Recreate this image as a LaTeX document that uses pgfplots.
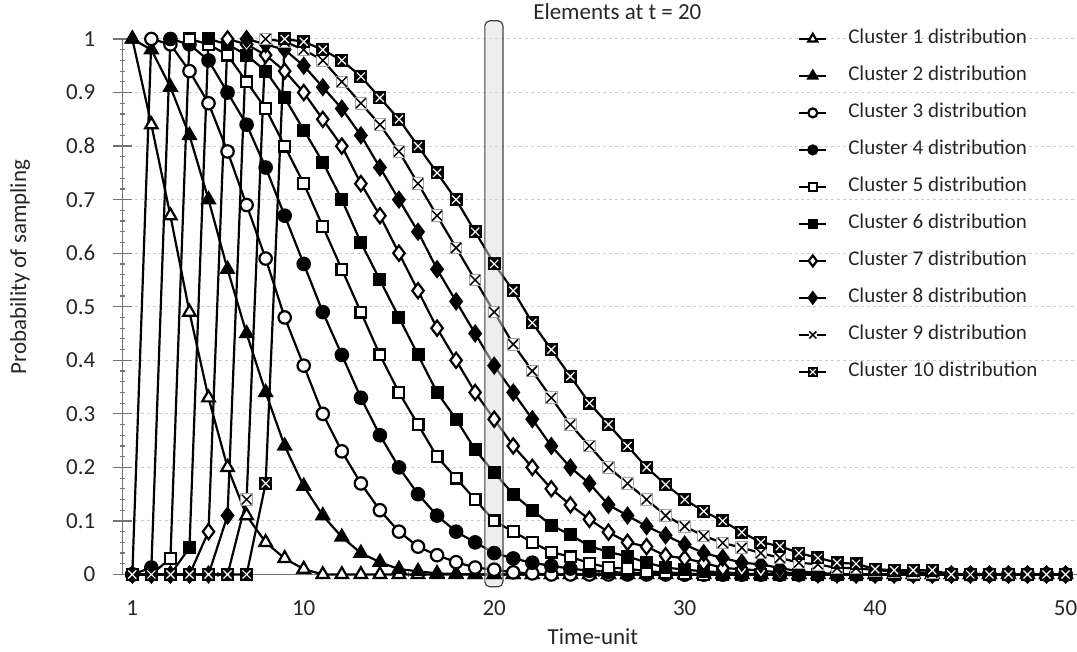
\documentclass[border=0pt]{standalone}
\usepackage{fontspec}
\setmainfont{Carlito}
\usepackage{pgfplots}
\usepackage{pgfplotstable}
\pgfplotsset{compat=1.18}

\pgfdeclareplotmark{xbox}{%
  \pgfpathrectangle{\pgfqpoint{-\pgfplotmarksize}{-\pgfplotmarksize}}{\pgfqpoint{2\pgfplotmarksize}{2\pgfplotmarksize}}%
  \pgfusepathqfillstroke
  \begin{pgfscope}%
  \pgfsetstrokecolor{white}%
  \pgfsetlinewidth{0.6pt}%
  \pgfpathmoveto{\pgfqpoint{-0.75\pgfplotmarksize}{-0.75\pgfplotmarksize}}%
  \pgfpathlineto{\pgfqpoint{0.75\pgfplotmarksize}{0.75\pgfplotmarksize}}%
  \pgfpathmoveto{\pgfqpoint{-0.75\pgfplotmarksize}{0.75\pgfplotmarksize}}%
  \pgfpathlineto{\pgfqpoint{0.75\pgfplotmarksize}{-0.75\pgfplotmarksize}}%
  \pgfusepathqstroke
  \end{pgfscope}%
}
\pgfdeclareplotmark{xwhite}{%
  \begin{pgfscope}%
  \pgfsetfillcolor{white}%
  \pgfsetstrokecolor{black!35}%
  \pgfsetlinewidth{0.5pt}%
  \pgfpathrectangle{\pgfqpoint{-\pgfplotmarksize}{-\pgfplotmarksize}}{\pgfqpoint{2\pgfplotmarksize}{2\pgfplotmarksize}}%
  \pgfusepathqfillstroke
  \end{pgfscope}%
  \pgfpathmoveto{\pgfqpoint{-0.85\pgfplotmarksize}{-0.85\pgfplotmarksize}}%
  \pgfpathlineto{\pgfqpoint{0.85\pgfplotmarksize}{0.85\pgfplotmarksize}}%
  \pgfpathmoveto{\pgfqpoint{-0.85\pgfplotmarksize}{0.85\pgfplotmarksize}}%
  \pgfpathlineto{\pgfqpoint{0.85\pgfplotmarksize}{-0.85\pgfplotmarksize}}%
  \pgfusepathqstroke
}
\pgfdeclareplotmark{xlegend}{%
  \begin{pgfscope}%
  \pgfsetfillcolor{white}%
  \pgfpathrectangle{\pgfqpoint{-\pgfplotmarksize}{-\pgfplotmarksize}}{\pgfqpoint{2\pgfplotmarksize}{2\pgfplotmarksize}}%
  \pgfusepathqfill
  \end{pgfscope}%
  \pgfpathmoveto{\pgfqpoint{-0.85\pgfplotmarksize}{-0.85\pgfplotmarksize}}%
  \pgfpathlineto{\pgfqpoint{0.85\pgfplotmarksize}{0.85\pgfplotmarksize}}%
  \pgfpathmoveto{\pgfqpoint{-0.85\pgfplotmarksize}{0.85\pgfplotmarksize}}%
  \pgfpathlineto{\pgfqpoint{0.85\pgfplotmarksize}{-0.85\pgfplotmarksize}}%
  \pgfusepathqstroke
}

\pgfplotstableread{
t  c1    c2    c3    c4    c5    c6    c7    c8    c9    c10
1  1     1     0     0     0     0     0     0     0     0
2  0.84  0.98  1     0.013 0     0     0     0     0     0
3  0.67  0.91  0.99  1     0.03  0     0     0     0     0
4  0.49  0.82  0.94  0.99  1     0.05  0     0     0     0
5  0.33  0.70  0.88  0.96  0.99  1     0.08  0     0     0
6  0.20  0.57  0.79  0.90  0.97  0.99  1     0.11  0     0
7  0.11  0.45  0.69  0.84  0.92  0.97  0.99  1     0.14  0
8  0.06  0.34  0.59  0.76  0.87  0.94  0.97  0.99  1     0.17
9  0.03  0.24  0.48  0.67  0.80  0.89  0.94  0.98  0.995 1
10 0.01  0.165 0.39  0.58  0.73  0.83  0.90  0.95  0.98  0.995
11 0     0.11  0.30  0.49  0.65  0.77  0.85  0.91  0.96  0.98
12 0     0.07  0.23  0.41  0.57  0.70  0.80  0.87  0.92  0.96
13 0     0.04  0.17  0.33  0.49  0.62  0.73  0.82  0.88  0.93
14 0     0.023 0.12  0.26  0.41  0.55  0.67  0.76  0.84  0.89
15 0     0.01  0.08  0.20  0.34  0.48  0.60  0.70  0.79  0.85
16 0     0.006 0.052 0.15  0.28  0.41  0.53  0.64  0.73  0.80
17 0     0.002 0.036 0.11  0.22  0.34  0.46  0.57  0.67  0.75
18 0     0.001 0.023 0.08  0.18  0.29  0.40  0.51  0.61  0.70
19 0     0     0.013 0.06  0.14  0.233 0.34  0.45  0.55  0.64
20 0     0     0.009 0.04  0.10  0.19  0.29  0.39  0.49  0.58
21 0     0     0.004 0.03  0.08  0.15  0.24  0.34  0.43  0.53
22 0     0     0.002 0.022 0.06  0.12  0.20  0.29  0.38  0.47
23 0     0     0     0.016 0.042 0.092 0.16  0.24  0.33  0.42
24 0     0     0     0.011 0.033 0.074 0.13  0.20  0.28  0.37
25 0     0     0     0.007 0.021 0.053 0.103 0.17  0.24  0.32
26 0     0     0     0.005 0.013 0.042 0.079 0.13  0.20  0.28
27 0     0     0     0.003 0.011 0.034 0.06  0.11  0.17  0.24
28 0     0     0     0.002 0.006 0.022 0.052 0.09  0.14  0.20
29 0     0     0     0.001 0.004 0.013 0.035 0.073 0.11  0.168
30 0     0     0     0     0.002 0.009 0.03  0.056 0.09  0.14
31 0     0     0     0     0     0.006 0.022 0.04  0.072 0.118
32 0     0     0     0     0     0.004 0.012 0.031 0.059 0.10
33 0     0     0     0     0     0.002 0.01  0.022 0.05  0.079
34 0     0     0     0     0     0     0.007 0.019 0.04  0.06
35 0     0     0     0     0     0     0.004 0.012 0.031 0.053
36 0     0     0     0     0     0     0.002 0.006 0.022 0.04
37 0     0     0     0     0     0     0     0.003 0.019 0.031
38 0     0     0     0     0     0     0     0.001 0.012 0.022
39 0     0     0     0     0     0     0     0     0.012 0.02
40 0     0     0     0     0     0     0     0     0.008 0.01
41 0     0     0     0     0     0     0     0     0.006 0.008
42 0     0     0     0     0     0     0     0     0.004 0.008
43 0     0     0     0     0     0     0     0     0.003 0.008
44 0     0     0     0     0     0     0     0     0     0
45 0     0     0     0     0     0     0     0     0     0
46 0     0     0     0     0     0     0     0     0     0
47 0     0     0     0     0     0     0     0     0     0
48 0     0     0     0     0     0     0     0     0     0
49 0     0     0     0     0     0     0     0     0     0
50 0     0     0     0     0     0     0     0     0     0
}\data

\begin{document}
\begin{tikzpicture}
\begin{axis}[
  scale only axis, width=477.1pt, height=267.75pt,
  xmin=0.5, xmax=50.6, ymin=0, ymax=1,
  clip=false,
  axis lines=left,
  axis line style={-, black!55, line width=0.6pt},
  xtick={1,10,20,30,40,50},
  ytick={0,0.1,0.2,0.3,0.4,0.5,0.6,0.7,0.8,0.9,1},
  minor y tick num=4,
  minor xtick={5.5,15.5,25.5,35.5,45.5},
  major x tick style={draw=none},
  tick style={black!55, line width=0.6pt},
  tick align=center,
  major tick length=9.5pt,
  minor tick length=2.5pt,
  ymajorgrids,
  major grid style={dash pattern=on 1.5pt off 1.5pt, black!20, line width=0.5pt},
  /pgf/number format/assume math mode=true,
  yticklabel style={/pgf/number format/fixed, /pgf/number format/precision=1, xshift=-5.5pt},
  xticklabel style={yshift=-5pt},
  ticklabel style={font=\fontsize{11.5}{13}\selectfont, text=black!85},
  xlabel={Time-unit},
  ylabel={Probability of sampling},
  label style={font=\fontsize{11.5}{13}\selectfont, text=black!85},
  xlabel style={at={(axis description cs:0.4927,-0.1167)}, anchor=center},
  ylabel style={at={(axis description cs:-0.1077,0.574)}, anchor=center},
  every axis plot/.append style={line width=1.1pt, black},
  mark options={solid, line width=0.75pt},
  legend style={at={(axis cs:35.94,1.0196)}, anchor=north west, draw=none, fill=none,
    inner sep=0pt, row sep=8.5pt, column sep=0pt,
    font=\fontsize{10.5}{12}\selectfont, text=black!85,
    nodes={inner sep=0pt, text height=7.5pt, text depth=2.5pt}},
  legend cell align=left,
  legend image code/.code={\draw[mark repeat=2,mark phase=2,line width=1.1pt, every mark/.append style={scale=0.72}] plot coordinates {(0pt,0pt) (6.75pt,0pt) (13.5pt,0pt)}; \path[draw=none, fill=none] (13.5pt,0pt) -- (24.5pt,0pt);},
]
\addplot[mark=triangle*, mark size=3.6pt, mark options={fill=white}] table[x=t,y=c1] {\data};
\addlegendentry{Cluster 1 distribution}
\addplot[mark=triangle*, mark size=3.6pt, mark options={fill=black}] table[x=t,y=c2] {\data};
\addlegendentry{Cluster 2 distribution}
\addplot[mark=*, mark size=3.1pt, mark options={fill=white}] table[x=t,y=c3] {\data};
\addlegendentry{Cluster 3 distribution}
\addplot[mark=*, mark size=3.1pt, mark options={fill=black}] table[x=t,y=c4] {\data};
\addlegendentry{Cluster 4 distribution}
\addplot[mark=square*, mark size=2.7pt, mark options={fill=white}] table[x=t,y=c5] {\data};
\addlegendentry{Cluster 5 distribution}
\addplot[mark=square*, mark size=2.7pt, mark options={fill=black}] table[x=t,y=c6] {\data};
\addlegendentry{Cluster 6 distribution}
\addplot[mark=diamond*, mark size=3.8pt, mark options={fill=white}] table[x=t,y=c7] {\data};
\addlegendentry{Cluster 7 distribution}
\addplot[mark=diamond*, mark size=3.8pt, mark options={fill=black}] table[x=t,y=c8] {\data};
\addlegendentry{Cluster 8 distribution}
\addplot[mark=xwhite, mark size=2.9pt, legend image post style={mark=xlegend}] table[x=t,y=c9] {\data};
\addlegendentry{Cluster 9 distribution}
\addplot[mark=xbox, mark size=2.7pt, mark options={fill=black}] table[x=t,y=c10] {\data};
\addlegendentry{Cluster 10 distribution}
\draw[rounded corners=2.5pt, black!75, line width=0.6pt, fill={rgb,255:red,222;green,222;blue,222}, fill opacity=0.5]
  (axis cs:19.51,-0.023) rectangle (axis cs:20.46,1.034);
\node[font=\fontsize{11.5}{13}\selectfont, text=black!85] at (axis description cs:0.5183,1.0504) {Elements at t = 20};
\end{axis}
\pgfresetboundingbox
\path (-61.4pt,-38.75pt) rectangle (477.1pt,287.25pt);
\end{tikzpicture}
\end{document}
